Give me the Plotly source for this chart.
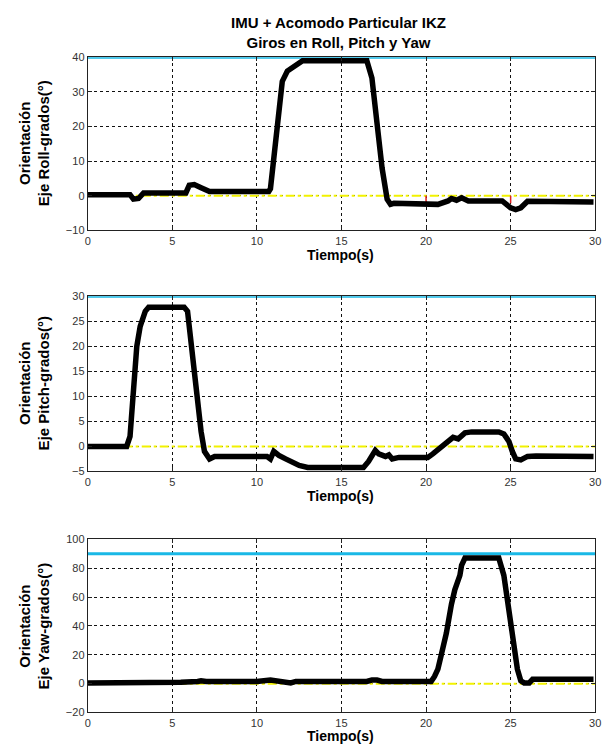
import plotly.graph_objects as go

# ---------------- data ----------------
roll_t = [0, 2.5, 2.7, 3.0, 3.3, 4.0, 5.8, 6.0, 6.3, 6.7, 7.2, 8.0, 10.7, 10.8, 11.2, 11.5, 11.8, 12.2, 12.7,
          13.0, 16.5, 16.8, 17.1, 17.4, 17.7, 17.9, 18.1, 20.0, 20.7, 21.3, 21.5, 21.8, 22.1, 22.5, 24.5,
          25.0, 25.3, 25.6, 26.0, 29.9]
roll_v = [0.3, 0.3, -1.0, -0.8, 0.8, 0.8, 0.8, 3.0, 3.2, 2.3, 1.2, 1.2, 1.2, 2.0, 20.0, 33.0, 36.0, 37.5, 39.0,
          39.0, 39.0, 34.0, 20.0, 8.0, -1.0, -2.5, -2.2, -2.3, -2.5, -1.5, -0.8, -1.3, -0.6, -1.5, -1.5,
          -3.5, -4.0, -3.5, -1.6, -1.8]

pitch_t = [0, 2.3, 2.5, 2.7, 2.9, 3.1, 3.4, 3.6, 5.7, 5.9, 6.1, 6.4, 6.7, 6.9, 7.2, 7.5, 10.6, 10.8, 11.0,
           11.3, 11.7, 12.2, 12.5, 13.0, 16.3, 16.6, 16.8, 17.0, 17.2, 17.6, 17.8, 18.0, 18.4, 20.1, 20.4,
           20.8, 21.3, 21.6, 21.9, 22.3, 22.7, 24.3, 24.6, 24.9, 25.1, 25.3, 25.6, 26.0, 26.5, 29.9]
pitch_v = [0.0, 0.0, 2.0, 12.0, 20.0, 24.0, 27.0, 27.8, 27.8, 27.0, 20.0, 12.0, 3.0, -1.0, -2.5, -2.0, -2.0,
           -2.5, -1.0, -1.8, -2.5, -3.2, -3.8, -4.2, -4.2, -3.0, -2.0, -0.8, -1.5, -2.0, -1.7, -2.5, -2.2,
           -2.2, -1.5, -0.5, 1.0, 1.8, 1.5, 2.7, 2.9, 2.9, 2.5, 1.0, -1.0, -2.5, -2.7, -2.0, -1.9, -2.0]

yaw_t = [0, 2.5, 2.6, 3.0, 3.2, 5.5, 6.5, 6.7, 7.0, 10.0, 10.8, 11.2, 11.5, 12.0, 12.3, 16.5, 16.8, 17.1, 17.4,
         20.3, 20.5, 20.7, 20.9, 21.2, 21.5, 21.7, 22.0, 22.1, 22.3, 24.3, 24.6, 24.9, 25.2, 25.4, 25.6, 25.8,
         26.1, 26.3, 26.5, 29.9]
yaw_v = [0.5, 0.5, 1.0, 0.5, 1.0, 1.0, 1.5, 2.0, 1.5, 1.5, 2.5, 2.0, 1.5, 0.5, 1.5, 1.5, 2.5, 2.5, 1.5,
         1.5, 5.0, 10.0, 20.0, 35.0, 55.0, 65.0, 75.0, 82.0, 87.0, 87.0, 75.0, 50.0, 25.0, 10.0, 2.0, 0.5,
         0.5, 3.0, 3.0, 3.0]

ref_max = [40, 30, 90]          # cyan reference lines
ref_zero = [0, 0, 0]            # yellow dash-dot lines
red_t = [20, 20, None, 25, 25]
red_v = [0, -2.4, None, 0, -2.2]

x_ticks = [0, 5, 10, 15, 20, 25, 30]
y_ranges = [[-10, 40], [-5, 30], [-20, 100]]
y_dticks = [10, 5, 20]
y_titles = ["Orientación<br>Eje Roll-grados(°)",
            "Orientación<br>Eje Pitch-grados(°)",
            "Orientación<br>Eje Yaw-grados(°)"]
title_text = "<b>IMU + Acomodo Particular IKZ<br>Giros en Roll, Pitch y Yaw</b>"
x_title = "Tiempo(s)"

# ---------------- layout geometry (pixels) ----------------
W, H = 615, 749
x0, x1 = 86, 601
rows_px = [(52, 228), (295, 473), (542, 718)]
xtitle_px = [253, 498, 742]

FONT = "Liberation Sans, Arial, sans-serif"

fig = go.Figure()
series = [(roll_t, roll_v), (pitch_t, pitch_v), (yaw_t, yaw_v)]

for i, (t, v) in enumerate(series):
    xa = "x" if i == 0 else f"x{i+1}"
    ya = "y" if i == 0 else f"y{i+1}"
    fig.add_trace(go.Scatter(x=[0, 30], y=[ref_zero[i]] * 2, mode="lines",
                             line=dict(color="#f2f200", width=2, dash="dashdot"),
                             xaxis=xa, yaxis=ya, showlegend=False, cliponaxis=False))
    fig.add_trace(go.Scatter(x=[0, 30], y=[ref_max[i]] * 2, mode="lines",
                             line=dict(color="#19b8e6", width=3),
                             xaxis=xa, yaxis=ya, showlegend=False, cliponaxis=False))
    if i == 0:
        fig.add_trace(go.Scatter(x=red_t, y=red_v, mode="lines",
                                 line=dict(color="#e02020", width=1.5),
                                 xaxis=xa, yaxis=ya, showlegend=False))
    fig.add_trace(go.Scatter(x=t, y=v, mode="lines",
                             line=dict(color="black", width=5.5),
                             xaxis=xa, yaxis=ya, showlegend=False))

    top, bot = rows_px[i]
    axis_common = dict(showline=True, linecolor="#222", linewidth=1, mirror="allticks",
                       ticks="inside", ticklen=4, tickcolor="#222",
                       showgrid=True, gridcolor="#111", gridwidth=1, griddash="dot",
                       zeroline=False, tickfont=dict(family=FONT, size=11, color="#333"))
    fig.layout[f"xaxis{'' if i == 0 else i+1}"] = dict(
        axis_common, domain=[x0 / W, x1 / W], range=[0, 30], tickvals=x_ticks,
        anchor=ya)
    fig.layout[f"yaxis{'' if i == 0 else i+1}"] = dict(
        axis_common, domain=[1 - bot / H, 1 - top / H], range=y_ranges[i],
        dtick=y_dticks[i], tick0=0, anchor=xa)

    fig.add_annotation(text=f"<b>{x_title}</b>", x=(x0 + x1) / 2 / W - 0.5 / W, y=1 - xtitle_px[i] / H,
                       xref="paper", yref="paper", showarrow=False, xanchor="center", yanchor="middle",
                       font=dict(family=FONT, size=14, color="black"))
    fig.add_annotation(text=f"<b>{y_titles[i]}</b>", x=32 / W, y=1 - (top + bot) / 2 / H,
                       xref="paper", yref="paper", showarrow=False, textangle=-90,
                       xanchor="center", yanchor="middle",
                       font=dict(family=FONT, size=15, color="black"))

fig.add_annotation(text=title_text, x=340 / W, y=1 - 27 / H, xref="paper", yref="paper",
                   showarrow=False, xanchor="center", yanchor="middle",
                   font=dict(family=FONT, size=15, color="black"))

fig.update_layout(width=W, height=H, autosize=False, margin=dict(l=0, r=0, t=0, b=0),
                  paper_bgcolor="white", plot_bgcolor="white", showlegend=False)

fig.write_html("out.html", config={"displayModeBar": False},
               post_script="document.body.style.margin='0';document.body.style.overflow='hidden';")
